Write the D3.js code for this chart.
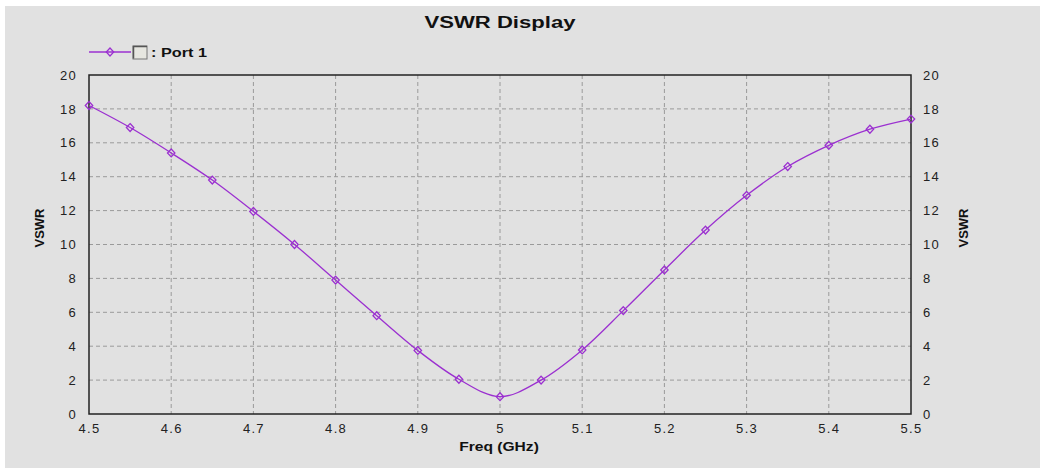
<!DOCTYPE html>
<html>
<head>
<meta charset="utf-8">
<script src="https://cdn.jsdelivr.net/npm/d3@7"></script>
<style>
  body { margin: 0; background: #fff; }
  text { font-family: "Liberation Sans", Arial, sans-serif; }
</style>
</head>
<body>
<div id="chart"></div>
<script>
// data
var freq = [4.5, 4.55, 4.6, 4.65, 4.7, 4.75, 4.8, 4.85, 4.9, 4.95, 5.0,
            5.05, 5.1, 5.15, 5.2, 5.25, 5.3, 5.35, 5.4, 5.45, 5.5]
var vswr = [18.2, 16.9, 15.4, 13.8, 11.95, 10.0, 7.9, 5.8, 3.75, 2.05, 1.02,
            2.0, 3.78, 6.1, 8.5, 10.85, 12.9, 14.6, 15.85, 16.8, 17.4]
var xTicks = [4.5, 4.6, 4.7, 4.8, 4.9, 5, 5.1, 5.2, 5.3, 5.4, 5.5]
var yTicks = [0, 2, 4, 6, 8, 10, 12, 14, 16, 18, 20]

var W = 1043, H = 468
var pLeft = 89, pRight = 911, pTop = 75, pBottom = 414
var lineColor = "#9b30d0"

var svg = d3.select("#chart").append("svg")
    .attr("width", W)
    .attr("height", H)

svg.append("rect")
    .attr("x", 5).attr("y", 6)
    .attr("width", W - 8).attr("height", H - 6)
    .attr("fill", "#e1e1e1")

var x = d3.scaleLinear().domain([4.5, 5.5]).range([pLeft, pRight])
var y = d3.scaleLinear().domain([0, 20]).range([pBottom, pTop])

// grid
svg.selectAll(".vgrid").data(xTicks.slice(1, -1))
    .enter().append("line")
    .attr("x1", d => x(d)).attr("x2", d => x(d))
    .attr("y1", pTop).attr("y2", pBottom)
    .attr("stroke", "#9a9a9a").attr("stroke-dasharray", "4,3")

svg.selectAll(".hgrid").data(yTicks.slice(1, -1))
    .enter().append("line")
    .attr("x1", pLeft).attr("x2", pRight)
    .attr("y1", d => y(d)).attr("y2", d => y(d))
    .attr("stroke", "#9a9a9a").attr("stroke-dasharray", "4,3")

// frame
svg.append("rect")
    .attr("x", pLeft).attr("y", pTop)
    .attr("width", pRight - pLeft).attr("height", pBottom - pTop)
    .attr("fill", "none").attr("stroke", "#222").attr("stroke-width", 1.5)

// axes (no tick lines, just labels)
var xAxis = d3.axisBottom(x).tickValues(xTicks).tickSize(0).tickPadding(10)
    .tickFormat(d => d3.format("")(d))
var gx = svg.append("g").attr("transform", "translate(0," + pBottom + ")").call(xAxis)
var yAxisL = d3.axisLeft(y).tickValues(yTicks).tickSize(0).tickPadding(12)
var gl = svg.append("g").attr("transform", "translate(" + pLeft + ",0)").call(yAxisL)
var yAxisR = d3.axisRight(y).tickValues(yTicks).tickSize(0).tickPadding(12)
var gr = svg.append("g").attr("transform", "translate(" + pRight + ",0)").call(yAxisR)

;[gx, gl, gr].forEach(function(g) {
    g.select(".domain").remove()
    g.selectAll("text")
        .style("font-size", "13px")
        .style("letter-spacing", "1.3px")
        .attr("fill", "#222")
})

// curve
var line = d3.line()
    .x((d, i) => x(freq[i]))
    .y(d => y(d))
    .curve(d3.curveCatmullRom)

svg.append("path")
    .datum(vswr)
    .attr("d", line)
    .attr("fill", "none")
    .attr("stroke", lineColor)
    .attr("stroke-width", 1.3)

var diamond = d3.symbol().type(d3.symbolDiamond).size(28)
svg.selectAll(".pt").data(vswr)
    .enter().append("path")
    .attr("class", "pt")
    .attr("d", diamond)
    .attr("transform", (d, i) => "translate(" + x(freq[i]) + "," + y(d) + ") scale(1.3,0.8)")
    .attr("fill", "none")
    .attr("stroke", lineColor)
    .attr("stroke-width", 1.2)

// title (reference text is stretched sideways)
svg.append("text")
    .attr("transform", "translate(500,28) scale(1.3,1)")
    .attr("text-anchor", "middle")
    .style("font-size", "17px").style("font-weight", "bold")
    .attr("fill", "#111")
    .text("VSWR Display")

// legend
svg.append("line")
    .attr("x1", 89).attr("x2", 131).attr("y1", 52).attr("y2", 52)
    .attr("stroke", lineColor).attr("stroke-width", 1.3)
svg.append("path")
    .attr("d", diamond)
    .attr("transform", "translate(110,52) scale(1.3,0.8)")
    .attr("fill", "none").attr("stroke", lineColor).attr("stroke-width", 1.2)
svg.append("rect")
    .attr("x", 133).attr("y", 46).attr("width", 14).attr("height", 13)
    .attr("fill", "#e6e6e0").attr("stroke", "#777").attr("stroke-width", 1)
svg.append("path")
    .attr("d", "M133.5,58.5 V46.5 H147")
    .attr("fill", "none").attr("stroke", "#555").attr("stroke-width", 1.5)
svg.append("text")
    .attr("transform", "translate(151,57) scale(1.25,1)")
    .style("font-size", "13px").style("font-weight", "bold")
    .attr("fill", "#111")
    .text(": Port 1")

// axis titles
svg.append("text")
    .attr("transform", "translate(44,228) rotate(-90)")
    .attr("text-anchor", "middle")
    .style("font-size", "13px").style("font-weight", "bold")
    .attr("fill", "#111")
    .text("VSWR")
svg.append("text")
    .attr("transform", "translate(968,228) rotate(-90)")
    .attr("text-anchor", "middle")
    .style("font-size", "13px").style("font-weight", "bold")
    .attr("fill", "#111")
    .text("VSWR")
svg.append("text")
    .attr("transform", "translate(499,451) scale(1.2,1)")
    .attr("text-anchor", "middle")
    .style("font-size", "13px").style("font-weight", "bold")
    .attr("fill", "#111")
    .text("Freq (GHz)")
</script>
</body>
</html>
